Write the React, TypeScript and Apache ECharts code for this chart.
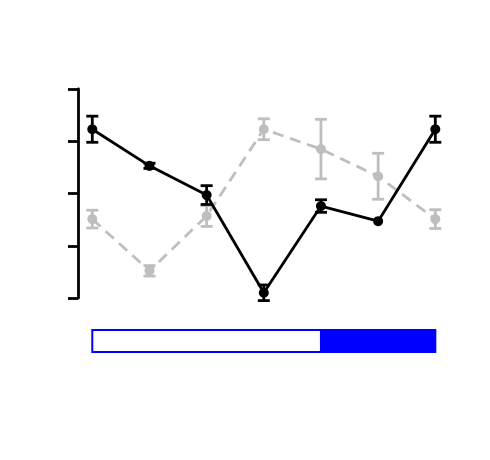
import React, { useEffect, useRef } from "react";
import * as echarts from "echarts";

const positions = [0, 1, 2, 3, 4, 5, 6];
const blackMean = [3.23, 2.53, 1.97, 0.1, 1.76, 1.47, 3.23];
const blackErr = [0.25, 0.05, 0.18, 0.15, 0.12, 0, 0.25];
const grayMean = [1.51, 0.52, 1.57, 3.23, 2.85, 2.33, 1.51];
const grayErr = [0.17, 0.1, 0.2, 0.2, 0.57, 0.44, 0.18];
const bandSegments: [number, number, string][] = [
  [0, 4, "#ffffff"],
  [4, 6, "#0000ff"],
];

const GRAY = "#bebebe";
const BLACK = "#000000";

function errorSeries(mean: number[], err: number[], color: string, z: number) {
  return {
    type: "custom",
    xAxisIndex: 0,
    yAxisIndex: 0,
    z,
    data: positions.map((p, i) => [p, mean[i] - err[i], mean[i] + err[i]]),
    renderItem: (params: any, api: any) => {
      const x = api.value(0);
      const lo = api.value(1);
      const hi = api.value(2);
      if (hi - lo <= 0) return { type: "group", children: [] };
      const pLo = api.coord([x, lo]);
      const pHi = api.coord([x, hi]);
      const hw = 6;
      const style = { stroke: color, lineWidth: 2.8 };
      return {
        type: "group",
        children: [
          { type: "line", shape: { x1: pLo[0], y1: pLo[1], x2: pHi[0], y2: pHi[1] }, style },
          { type: "line", shape: { x1: pLo[0] - hw, y1: pLo[1], x2: pLo[0] + hw, y2: pLo[1] }, style },
          { type: "line", shape: { x1: pHi[0] - hw, y1: pHi[1], x2: pHi[0] + hw, y2: pHi[1] }, style },
        ],
      };
    },
  };
}

export default function App() {
  const ref = useRef<HTMLDivElement>(null);
  useEffect(() => {
    if (!ref.current) return;
    const chart = echarts.init(ref.current, null, { renderer: "svg" });
    const left = 78;
    const width = 6.5 * 57.17;
    chart.setOption({
      animation: false,
      backgroundColor: "#ffffff",
      grid: [
        { left, top: 89, width, height: 209 },
        { left, top: 330, width, height: 22 },
      ],
      xAxis: [
        { type: "value", gridIndex: 0, min: -0.25, max: 6.25, show: false },
        { type: "value", gridIndex: 1, min: -0.25, max: 6.25, show: false },
      ],
      yAxis: [
        {
          type: "value",
          gridIndex: 0,
          min: 0,
          max: 4,
          interval: 1,
          axisLine: { show: true, onZero: false, lineStyle: { color: BLACK, width: 2.8 } },
          axisTick: { show: true, length: 10, lineStyle: { color: BLACK, width: 2.8 } },
          axisLabel: { show: false },
          splitLine: { show: false },
        },
        { type: "value", gridIndex: 1, min: 0, max: 1, show: false },
      ],
      series: [
        errorSeries(grayMean, grayErr, GRAY, 1),
        {
          type: "line",
          xAxisIndex: 0,
          yAxisIndex: 0,
          z: 2,
          data: positions.map((p, i) => [p, grayMean[i]]),
          symbol: "circle",
          symbolSize: 10,
          itemStyle: { color: GRAY },
          lineStyle: { color: GRAY, width: 2.8, type: [11, 7] },
        },
        errorSeries(blackMean, blackErr, BLACK, 3),
        {
          type: "line",
          xAxisIndex: 0,
          yAxisIndex: 0,
          z: 4,
          data: positions.map((p, i) => [p, blackMean[i]]),
          symbol: "circle",
          symbolSize: 10,
          itemStyle: { color: BLACK },
          lineStyle: { color: BLACK, width: 2.8 },
        },
        {
          type: "custom",
          xAxisIndex: 1,
          yAxisIndex: 1,
          data: bandSegments,
          renderItem: (params: any, api: any) => {
            const s = api.value(0);
            const e = api.value(1);
            const p0 = api.coord([s, 1]);
            const p1 = api.coord([e, 0]);
            return {
              type: "rect",
              shape: { x: p0[0], y: p0[1], width: p1[0] - p0[0], height: p1[1] - p0[1] },
              style: { fill: bandSegments[params.dataIndex][2], stroke: "#0000ff", lineWidth: 2 },
            };
          },
        },
      ],
    });
    return () => chart.dispose();
  }, []);
  return (
    <div
      ref={ref}
      style={{ position: "absolute", left: 0, top: 0, width: 490, height: 460 }}
    />
  );
}
